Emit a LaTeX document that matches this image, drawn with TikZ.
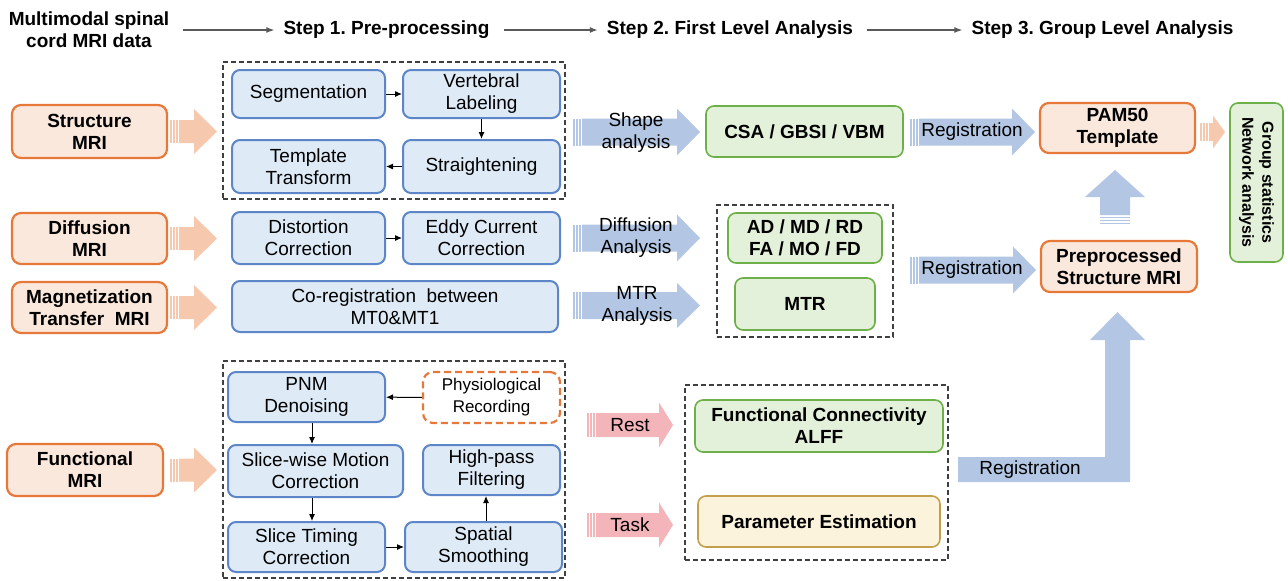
\documentclass[tikz,border=0pt]{standalone}
\usepackage{fontspec}
\setmainfont{Liberation Sans}
\usetikzlibrary{arrows.meta, positioning}
\frenchspacing

\definecolor{infill}{HTML}{FBE8DC}
\definecolor{inline}{HTML}{E6793A}
\definecolor{procfill}{HTML}{DEEBF7}
\definecolor{procline}{HTML}{5C86C8}
\definecolor{resfill}{HTML}{E3F1DB}
\definecolor{resline}{HTML}{6DB04A}
\definecolor{estfill}{HTML}{FCF3DD}
\definecolor{estline}{HTML}{C4A04C}
\definecolor{arrblue}{HTML}{B3C7E4}
\definecolor{arrorange}{HTML}{F6C8AE}
\definecolor{arrpink}{HTML}{F3B5BA}

% block arrow: colour, x tail, x tip, y, body half height, head half height, head length
\newcommand{\fatarrow}[7]{%
  \fill[#1] (#2,{#4-#5}) rectangle ({#2+1.5},{#4+#5});
  \fill[#1] ({#2+3},{#4-#5}) rectangle ({#2+4.5},{#4+#5});
  \fill[#1] ({#2+6},{#4-#5}) rectangle ({#2+7.5},{#4+#5});
  \fill[#1] ({#2+9},{#4-#5}) -- ({#3-#7},{#4-#5}) -- ({#3-#7},{#4-#6}) -- (#3,#4)
    -- ({#3-#7},{#4+#6}) -- ({#3-#7},{#4+#5}) -- ({#2+9},{#4+#5}) -- cycle;
}

\tikzset{
  base/.style={align=center, font=\fontsize{19}{22}\selectfont, inner sep=2pt},
  header/.style={align=center, font=\fontsize{19}{22}\selectfont\bfseries, inner sep=0pt},
  inbox/.style={base, font=\fontsize{19}{22}\selectfont\bfseries, draw=inline, fill=infill,
    line width=2.2pt, rounded corners=9pt},
  procbox/.style={base, draw=procline, fill=procfill, line width=2pt, rounded corners=8pt},
  resbox/.style={base, font=\fontsize{19}{22}\selectfont\bfseries, draw=resline, fill=resfill,
    line width=1.6pt, rounded corners=8pt},
  region/.style={draw=black!75, dash pattern=on 5pt off 3pt, line width=1.2pt},
  flow/.style={-{Latex[length=7pt,width=6pt]}, line width=1pt},
  hdrarrow/.style={-{Latex[length=8pt,width=6pt]}, line width=1.2pt, draw=black!65,
    shorten <=14pt, shorten >=9pt},
}

\begin{document}
\begin{tikzpicture}[x=1pt, y=-1pt]
\useasboundingbox (0,0) rectangle (1288,581);

% header row
\node[header] (data) at (89,30) {Multimodal spinal\\cord MRI data};
\node[header] (step1) at (386.5,30) {Step 1. Pre-processing};
\node[header] (step2) at (730,30) {Step 2. First Level Analysis};
\node[header] (step3) at (1102.5,30) {Step 3. Group Level Analysis};
\draw[hdrarrow] (data) -- (step1);
\draw[hdrarrow] (step1) -- (step2);
\draw[hdrarrow] (step2) -- (step3);

% dashed groups
\node[region, minimum width=342, minimum height=137] (structgrp) at (394,130.5) {};
\node[region, minimum width=176, minimum height=132] (dwigrp) at (805,271) {};
\node[region, minimum width=342, minimum height=217] (funcgrp) at (394,469.5) {};
\node[region, minimum width=263, minimum height=175] (fmrigrp) at (816.5,472.5) {};

% input data
\node[inbox, minimum width=155, minimum height=53] (structin) at (89.5,131.5) {Structure\\MRI};
\node[inbox, minimum width=155, minimum height=51] (diffin) at (89.5,238.5) {Diffusion\\MRI};
\node[inbox, minimum width=155, minimum height=51] (mtin) at (89.5,307.5) {Magnetization\\Transfer\ \ MRI};
\node[inbox, minimum width=156, minimum height=52] (funcin) at (85,470) {Functional\\MRI};

\fatarrow{arrorange}{170}{217}{131.5}{11.5}{22.5}{23}
\fatarrow{arrorange}{170}{217}{238.5}{11.5}{22.5}{23}
\fatarrow{arrorange}{170}{217}{307.5}{11.5}{22.5}{23}
\fatarrow{arrorange}{170}{217}{470}{11.5}{22.5}{23}

% structure pre-processing
\node[procbox, minimum width=153, minimum height=48] (seg) at (308.5,94) {Segmentation};
\node[procbox, minimum width=157, minimum height=48] (vert) at (481.5,94) {Vertebral\\Labeling};
\node[procbox, minimum width=153, minimum height=53] (tmpl) at (308.5,166.5) {Template\\Transform};
\node[procbox, minimum width=157, minimum height=53] (straight) at (481.5,166.5) {Straightening};
\draw[flow] (seg) -- (vert);
\draw[flow] (vert) -- (straight);
\draw[flow] (straight) -- (tmpl);

% diffusion and MT pre-processing
\node[procbox, minimum width=153, minimum height=52] (distort) at (308.5,238) {Distortion\\Correction};
\node[procbox, minimum width=157, minimum height=52] (eddy) at (481.5,238) {Eddy Current\\Correction};
\node[procbox, minimum width=326, minimum height=51] (coreg) at (395,306.5) {Co-registration\ \ between\\MT0\&MT1};
\draw[flow] (distort) -- (eddy);

% functional pre-processing
\node[procbox, minimum width=157, minimum height=50] (pnm) at (306.5,397) {PNM\\Denoising};
\node[base, font=\fontsize{17}{22}\selectfont, draw=inline, fill=white, line width=2.2pt,
  dash pattern=on 7pt off 4pt, rounded corners=10pt, minimum width=137, minimum height=51]
  (phys) at (491.5,397.5) {Physiological\\Recording};
\node[procbox, minimum width=175, minimum height=52] (slicewise) at (315.5,471) {Slice-wise Motion\\Correction};
\node[procbox, minimum width=137, minimum height=50] (highpass) at (491.5,470) {High-pass\\Filtering};
\node[procbox, minimum width=157, minimum height=50] (timing) at (306.5,547) {Slice Timing\\Correction};
\node[procbox, minimum width=157, minimum height=50] (spatial) at (483.5,547) {Spatial\\Smoothing};
\draw[flow] (phys) -- (pnm);
\draw[flow] ([xshift=5.5pt]pnm.south) -- ([xshift=-3.5pt]slicewise.north);
\draw[flow] ([xshift=-3.5pt]slicewise.south) -- ([xshift=5.5pt]timing.north);
\draw[flow] (timing) -- (spatial);
\draw[flow] ([xshift=2.5pt]spatial.north) -- ([xshift=-5.5pt]highpass.south);

% first level analysis
\fatarrow{arrblue}{573}{700}{132}{13.5}{23.5}{23}
\fatarrow{arrblue}{573}{700}{238}{13.5}{23.5}{23}
\fatarrow{arrblue}{573}{700}{305.5}{13.5}{22.5}{23}
\fatarrow{arrpink}{587}{673}{425}{12}{22.5}{14}
\fatarrow{arrpink}{587}{673}{525}{12}{22.5}{14}
\node[base] (shapelbl) at (636,132.5) {Shape\\analysis};
\node[base] (difflbl) at (636,238) {Diffusion\\Analysis};
\node[base] (mtrlbl) at (637,306) {MTR\\Analysis};
\node[base] (restlbl) at (630,425) {Rest};
\node[base] (tasklbl) at (630,525) {Task};

\node[resbox, minimum width=197, minimum height=51] (csa) at (804.5,131.5) {CSA / GBSI / VBM};
\node[resbox, minimum width=154, minimum height=50] (dti) at (805,238) {AD / MD / RD\\FA / MO / FD};
\node[resbox, minimum width=140, minimum height=52] (mtr) at (805,304) {MTR};
\node[resbox, minimum width=248, minimum height=52] (fc) at (819,426) {Functional Connectivity\\ALFF};
\node[resbox, draw=estline, fill=estfill, minimum width=242, minimum height=51] (param) at (819,521.5) {Parameter Estimation};

% group level analysis
\fatarrow{arrblue}{910}{1035}{132}{13.5}{23.5}{23}
\fatarrow{arrblue}{910}{1036}{270}{13.5}{23.5}{23}
\node[base] (reglbl1) at (972,132) {Registration};
\node[base] (reglbl2) at (972,270) {Registration};

\fill[arrblue] (958,457) -- (1105,457) -- (1105,340) -- (1090,340) -- (1117.5,312)
  -- (1145,340) -- (1130,340) -- (1130,482) -- (958,482) -- cycle;
\node[base] (reglbl3) at (1030,470) {Registration};

\fill[arrblue] (1100,197) -- (1085,197) -- (1115,170) -- (1145,197) -- (1130,197)
  -- (1130,215) -- (1100,215) -- cycle;
\fill[arrblue] (1100,216.5) rectangle (1130,218);
\fill[arrblue] (1100,219.5) rectangle (1130,221);
\fill[arrblue] (1100,222.5) rectangle (1130,224);

\node[inbox, minimum width=155, minimum height=50] (pam) at (1117.5,128) {PAM50\\Template};
\node[inbox, minimum width=156, minimum height=51] (prep) at (1119,266.5) {Preprocessed\\Structure MRI};
\fatarrow{arrorange}{1200}{1225}{132}{9}{16.5}{12}
\node[resbox, font=\fontsize{16}{20}\selectfont\bfseries, rotate=-90, minimum width=159,
  minimum height=53] (group) at (1256.5,182.5) {Group statistics\\Network analysis};
\end{tikzpicture}
\end{document}
